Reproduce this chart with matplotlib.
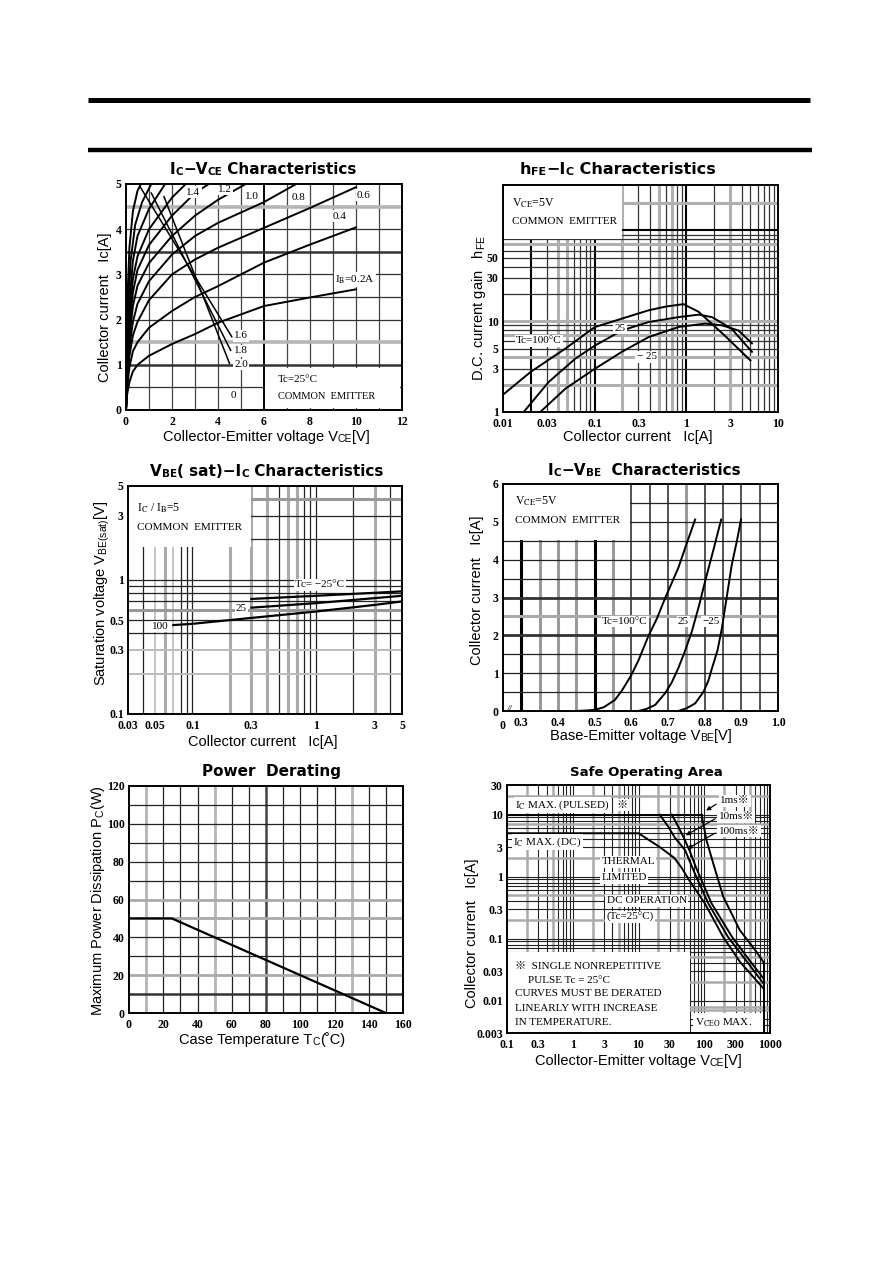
import matplotlib
matplotlib.use('Agg')
import matplotlib.pyplot as plt
from matplotlib.patches import Rectangle

plt.rcParams['mathtext.fontset'] = 'custom'
plt.rcParams['mathtext.rm'] = 'Liberation Sans'
plt.rcParams['mathtext.it'] = 'Liberation Sans'

SANS = 'Liberation Sans'
TITLE = 'DejaVu Sans'
SERIF = ['Liberation Serif', 'DejaVu Serif', 'Noto Sans CJK JP']
W, H = 892, 1263

# ---- Ic-Vce characteristics (IB curves) ----
ib_names = ['0.2', '0.4', '0.6', '0.8', '1.0', '1.2', '1.4', '1.6', '1.8', '2.0']
vce_02 = [0, 0.05, 0.15, 0.3, 0.5, 1, 2, 3, 4, 6, 8, 10]
ic_02 = [0, 0.35, 0.62, 0.85, 1.0, 1.2, 1.46, 1.68, 1.93, 2.3, 2.49, 2.67]
vce_04 = [0, 0.05, 0.15, 0.3, 0.5, 1, 2, 3, 4, 6, 8, 10]
ic_04 = [0, 0.5, 0.95, 1.3, 1.5, 1.82, 2.19, 2.5, 2.74, 3.26, 3.66, 4.04]
vce_06 = [0, 0.05, 0.15, 0.3, 0.5, 1, 2, 3, 4, 6, 8, 10]
ic_06 = [0, 0.6, 1.2, 1.65, 1.95, 2.43, 3.0, 3.33, 3.59, 4.03, 4.47, 4.93]
vce_08 = [0, 0.05, 0.15, 0.3, 0.5, 1, 2, 3, 4, 6, 7.4]
ic_08 = [0, 0.7, 1.4, 1.95, 2.35, 2.85, 3.44, 3.85, 4.14, 4.6, 5.0]
vce_10 = [0, 0.05, 0.15, 0.3, 0.5, 1, 2, 3, 4, 5.2]
ic_10 = [0, 0.8, 1.6, 2.3, 2.75, 3.25, 3.85, 4.3, 4.65, 5.0]
vce_12 = [0, 0.05, 0.15, 0.3, 0.5, 1, 2, 3, 3.6]
ic_12 = [0, 0.9, 1.85, 2.6, 3.1, 3.65, 4.3, 4.8, 5.0]
vce_14 = [0, 0.05, 0.15, 0.3, 0.5, 1, 2, 2.6]
ic_14 = [0, 1.0, 2.1, 2.9, 3.4, 4.0, 4.7, 5.0]
vce_16 = [0, 0.05, 0.15, 0.3, 0.5, 1, 1.7]
ic_16 = [0, 1.1, 2.4, 3.3, 3.85, 4.45, 5.0]
vce_18 = [0, 0.05, 0.1, 0.2, 0.4, 0.7, 1.1]
ic_18 = [0, 1.3, 2.3, 3.3, 4.1, 4.6, 5.0]
vce_20 = [0, 0.03, 0.08, 0.15, 0.3, 0.5, 0.65]
ic_20 = [0, 1.4, 2.7, 3.6, 4.4, 4.85, 5.0]

# ---- hFE-Ic ----
hfe_ic_100 = [0.01, 0.02, 0.048, 0.1, 0.2, 0.39, 0.6, 0.93, 1.36, 2.6, 5.0]
hfe_100 = [1.55, 2.76, 5.0, 8.6, 10.7, 13.2, 14.5, 15.4, 12.7, 7.0, 3.7]
hfe_ic_25 = [0.0168, 0.0315, 0.0615, 0.101, 0.198, 0.39, 0.83, 1.36, 1.9, 3.1, 5.2]
hfe_25 = [1.0, 2.14, 3.87, 5.4, 7.9, 9.8, 11.1, 11.8, 11.1, 8.3, 4.6]
hfe_ic_m25 = [0.0255, 0.048, 0.101, 0.198, 0.39, 0.83, 1.6, 2.45, 3.7, 5.2]
hfe_m25 = [1.0, 1.81, 3.0, 4.6, 6.7, 8.65, 9.4, 9.0, 7.9, 5.7]

# ---- VBE(sat)-Ic ----
sat_ic_100 = [0.07, 0.1, 0.3, 1, 3, 5]
sat_100 = [0.46, 0.47, 0.52, 0.58, 0.65, 0.69]
sat_ic_25 = [0.3, 1, 3, 5]
sat_25 = [0.62, 0.67, 0.73, 0.76]
sat_ic_m25 = [0.3, 1, 3, 5]
sat_m25 = [0.72, 0.76, 0.80, 0.82]

# ---- Ic-VBE ----
vbe_100 = [0.446, 0.47, 0.5, 0.525, 0.555, 0.575, 0.60, 0.62, 0.646, 0.67, 0.692, 0.728, 0.75, 0.774]
icb_100 = [0, 0.01, 0.03, 0.1, 0.29, 0.55, 0.95, 1.35, 1.97, 2.45, 2.98, 3.78, 4.4, 5.06]
vbe_25 = [0.619, 0.64, 0.665, 0.692, 0.71, 0.728, 0.745, 0.765, 0.785, 0.801, 0.825, 0.845]
icb_25 = [0, 0.05, 0.16, 0.47, 0.75, 1.13, 1.55, 2.1, 2.8, 3.42, 4.3, 5.06]
vbe_m25 = [0.728, 0.75, 0.774, 0.797, 0.81, 0.82, 0.835, 0.847, 0.86, 0.874, 0.888, 0.899]
icb_m25 = [0, 0.07, 0.2, 0.51, 0.8, 1.13, 1.6, 2.19, 3.0, 3.87, 4.5, 5.06]

# ---- Power derating ----
tc = [0, 25, 150]
pc = [50, 50, 0]

# ---- Safe operating area ----
pulse_v = [0.1, 91]
pulse_i = [10, 10]
soa_dc_v = [0.1, 10, 21, 35, 45, 60, 102, 194, 350, 600, 800]
soa_dc_i = [5, 5, 3.0, 2.0, 1.4, 0.85, 0.37, 0.106, 0.042, 0.022, 0.0156]
soa_100ms_v = [21, 28, 36, 51, 70, 115, 230, 450, 800]
soa_100ms_i = [10, 6.5, 4.2, 2.68, 1.2, 0.37, 0.106, 0.042, 0.0187]
soa_10ms_v = [32, 40, 48, 60, 75, 129, 265, 500, 800]
soa_10ms_i = [10, 6.5, 4.4, 2.6, 1.4, 0.37, 0.106, 0.043, 0.0226]
soa_1ms_v = [91, 100, 108, 137, 194, 347, 623, 800]
soa_1ms_i = [10, 6.0, 3.87, 1.63, 0.477, 0.137, 0.061, 0.0413]
vceo_v = [800, 800]
vceo_i = [0.003, 0.0413]


def box(l, t, r, b):
    return [l / W, 1 - b / H, (r - l) / W, (b - t) / H]


def frame(ax):
    for s in ax.spines.values():
        s.set_linewidth(1.4)
        s.set_zorder(6)
    ax.tick_params(length=0, labelsize=8.5)
    ax.tick_params(axis='x', pad=4.5)
    ax.tick_params(axis='y', pad=3)
    for lab in ax.get_xticklabels() + ax.get_yticklabels():
        lab.set_family(SERIF)
        lab.set_fontweight('bold')


def lines(ax, xs=(), ys=(), color='#222222', lw=0.8):
    for v in xs:
        ax.axvline(v, color=color, lw=lw, zorder=1)
    for v in ys:
        ax.axhline(v, color=color, lw=lw, zorder=1)


def white(ax, x0, y0, x1, y1):
    ax.add_patch(Rectangle((x0, y0), x1 - x0, y1 - y0, fc='white', ec='none', zorder=2))


def note(ax, x, y, s, ha='left', bg=True, size=8):
    kw = dict(fc='white', ec='none', pad=1.0) if bg else None
    ax.text(x, y, s, ha=ha, va='center', fontsize=size, family=SERIF,
            math_fontfamily='stix', bbox=kw, zorder=5)


fig = plt.figure(figsize=(W / 100, H / 100), dpi=100)
ax0 = fig.add_axes([0, 0, 1, 1])
ax0.set_xlim(0, W)
ax0.set_ylim(H, 0)
ax0.axis('off')

ax0.plot([88, 810], [99.5, 99.5], color='black', lw=3.6, solid_capstyle='butt')
ax0.plot([88, 812], [150, 150], color='black', lw=3.2, solid_capstyle='butt')


def rich(x, y, parts, weight='bold', family=TITLE):
    t = ax0.text(x, y, parts[0][0], fontsize=parts[0][1], fontweight=weight,
                 family=family, va='baseline', ha='left')
    for s, fs in parts[1:]:
        t = ax0.annotate(s, xy=(1, 0), xycoords=t, fontsize=fs, fontweight=weight,
                         family=family, va='bottom', ha='left')


# titles
rich(170, 174, [('I', 11), ('C', 7.5), ('−V', 11), ('CE', 7.5), (' Characteristics', 11)])
rich(520, 174, [('h', 11.5), ('FE', 8), ('−I', 11.5), ('C', 8), (' Characteristics', 11.5)])
rich(150, 476, [('V', 11), ('BE', 7.5), ('( sat)−I', 11), ('C', 7.5), (' Characteristics', 11)])
rich(548, 475, [('I', 11), ('C', 7.5), ('−V', 11), ('BE', 7.5), ('  Characteristics', 11)])
ax0.text(202, 776, 'Power  Derating', fontsize=11, fontweight='bold', family=TITLE, va='baseline')
ax0.text(570, 776, 'Safe Operating Area', fontsize=9.5, fontweight='bold', family=TITLE,
         va='baseline')

# x labels
rich(163, 441, [('Collector-Emitter voltage V', 10.5), ('CE', 7.5), ('[V]', 10.5)],
     weight='normal', family=SANS)
ax0.text(638, 441, 'Collector current   Ic[A]', fontsize=10.5, family=SANS, ha='center', va='baseline')
ax0.text(263, 746, 'Collector current   Ic[A]', fontsize=10.5, family=SANS, ha='center', va='baseline')
rich(550, 740, [('Base-Emitter voltage V', 10.5), ('BE', 7.5), ('[V]', 10.5)],
     weight='normal', family=SANS)
rich(179, 1044, [('Case Temperature T', 10.5), ('C', 7.5), ('(˚C)', 10.5)],
     weight='normal', family=SANS)
rich(535, 1065, [('Collector-Emitter voltage V', 10.5), ('CE', 7.5), ('[V]', 10.5)],
     weight='normal', family=SANS)

# y labels
ylab = dict(fontsize=10.5, family=SANS, rotation=90, ha='center', va='center')
ax0.text(105, 307, 'Collector current   Ic[A]', **ylab)
ax0.text(479, 308, r'D.C. current gain   h$_{\rm FE}$', **ylab)
ax0.text(102, 593, r'Saturation voltage V$_{\rm BE(sat)}$[V]', **ylab)
ax0.text(477, 590, 'Collector current   Ic[A]', **ylab)
ax0.text(98, 901, r'Maximum Power Dissipation P$_{\rm C}$(W)', **ylab)
ax0.text(472, 933, 'Collector current   Ic[A]', **ylab)

# ===== chart 1: Ic-Vce =====
ax1 = fig.add_axes(box(126, 184, 402, 410))
ax1.set_xlim(0, 12)
ax1.set_ylim(0, 5)
ax1.set_xticks(range(0, 13, 2))
ax1.set_yticks(range(0, 6))
lines(ax1, xs=[1, 2, 3, 4, 5, 7, 8, 9, 10, 11], color='#444444', lw=0.9)
lines(ax1, xs=[6], color='black', lw=1.4)
lines(ax1, ys=[0.5, 2, 2.5, 3, 4], color='#333333', lw=0.9)
lines(ax1, ys=[1.5, 4.5], color='#b5b5b5', lw=2.6)
lines(ax1, ys=[1.0, 3.5], color='#333333', lw=1.8)
white(ax1, 6.05, 0.05, 11.9, 0.93)
curves1 = [(vce_02, ic_02), (vce_04, ic_04), (vce_06, ic_06), (vce_08, ic_08), (vce_10, ic_10),
           (vce_12, ic_12), (vce_14, ic_14), (vce_16, ic_16), (vce_18, ic_18), (vce_20, ic_20)]
for v, i in curves1:
    ax1.plot(v, i, color='black', lw=1.4, zorder=3)
# leader lines for the steep curves
ax1.plot([4.6, 0.6], [1.62, 4.95], color='black', lw=1.1, zorder=3)
ax1.plot([4.55, 1.1], [1.32, 4.8], color='black', lw=1.1, zorder=3)
ax1.plot([4.5, 1.65], [1.03, 4.72], color='black', lw=1.1, zorder=3)
note(ax1, 2.93, 4.82, '1.4', ha='center')
note(ax1, 4.30, 4.88, '1.2', ha='center')
note(ax1, 5.46, 4.73, '1.0', ha='center')
note(ax1, 7.49, 4.71, '0.8', ha='center')
note(ax1, 10.35, 4.75, '0.6', ha='center')
note(ax1, 9.3, 4.29, '0.4', ha='center')
note(ax1, 9.96, 2.89, r'I$_{\rm B}$=0.2A', ha='center')
note(ax1, 4.7, 1.64, '1.6')
note(ax1, 4.7, 1.31, '1.8')
note(ax1, 4.7, 1.01, '2.0')
note(ax1, 4.55, 0.32, '0')
note(ax1, 6.62, 0.68, 'Tc=25°C', bg=False)
note(ax1, 6.62, 0.29, 'COMMON  EMITTER', bg=False, size=7.5)
frame(ax1)

# ===== chart 2: hFE-Ic =====
ax2 = fig.add_axes(box(503, 185, 778, 412))
ax2.set_xscale('log')
ax2.set_yscale('log')
ax2.set_xlim(0.01, 10)
ax2.set_ylim(1, 316)
ax2.set_xticks([0.01, 0.03, 0.1, 0.3, 1, 3, 10])
ax2.set_xticklabels(['0.01', '0.03', '0.1', '0.3', '1', '3', '10'])
ax2.set_yticks([1, 3, 5, 10, 30, 50])
ax2.set_yticklabels(['1', '3', '5', '10', '30', '50'])
ax2.minorticks_off()
lines(ax2, xs=[0.03, 0.06, 0.07, 0.08, 0.09, 0.3, 0.4, 0.6, 0.8, 0.9, 2, 4, 5, 6, 7, 8, 9],
      color='#333333', lw=0.9)
lines(ax2, xs=[0.04, 0.05, 0.2, 0.5, 0.7, 3], color='#b0b0b0', lw=2.2)
lines(ax2, xs=[0.02, 0.1, 1], color='black', lw=1.5)
lines(ax2, ys=[3, 5, 6, 8, 9, 20, 30, 40, 50, 60, 80, 90], color='#333333', lw=0.9)
lines(ax2, ys=[2, 4, 7, 10, 70, 200], color='#b0b0b0', lw=2.2)
lines(ax2, ys=[100], color='black', lw=1.5)
white(ax2, 0.01, 81, 0.198, 316)
ax2.plot(hfe_ic_100, hfe_100, color='black', lw=1.4, zorder=3)
ax2.plot(hfe_ic_25, hfe_25, color='black', lw=1.4, zorder=3)
ax2.plot(hfe_ic_m25, hfe_m25, color='black', lw=1.4, zorder=3)
note(ax2, 0.0125, 199, r'V$_{\rm CE}$=5V', bg=False, size=8.5)
note(ax2, 0.0125, 125, 'COMMON  EMITTER', bg=False)
note(ax2, 0.0245, 6.06, 'Tc=100°C', ha='center')
note(ax2, 0.19, 8.3, '25', ha='center')
note(ax2, 0.37, 4.05, '− 25', ha='center')
frame(ax2)

# ===== chart 3: VBE(sat)-Ic =====
ax3 = fig.add_axes(box(128, 486, 402, 714))
ax3.set_xscale('log')
ax3.set_yscale('log')
ax3.set_xlim(0.03, 5)
ax3.set_ylim(0.1, 5)
ax3.set_xticks([0.03, 0.05, 0.1, 0.3, 1, 3, 5])
ax3.set_xticklabels(['0.03', '0.05', '0.1', '0.3', '1', '3', '5'])
ax3.set_yticks([0.1, 0.3, 0.5, 1, 3, 5])
ax3.set_yticklabels(['0.1', '0.3', '0.5', '1', '3', '5'])
ax3.minorticks_off()
lines(ax3, xs=[0.04, 0.08, 0.09, 0.1, 0.5, 0.8, 0.9, 1, 2, 4], color='#222222', lw=0.9)
lines(ax3, xs=[0.05, 0.07], color='#bbbbbb', lw=1.2)
lines(ax3, xs=[0.06, 0.2, 0.3, 0.4, 0.6, 0.7, 3], color='#aaaaaa', lw=2.2)
lines(ax3, ys=[0.4, 0.5, 0.7, 0.8, 0.9, 1, 2, 3], color='#222222', lw=0.9)
lines(ax3, ys=[0.2, 0.3], color='#bbbbbb', lw=1.4)
lines(ax3, ys=[0.6, 4], color='#999999', lw=2.2)
white(ax3, 0.03, 1.77, 0.3, 5)
ax3.plot(sat_ic_m25, sat_m25, color='black', lw=1.6, zorder=3)
ax3.plot(sat_ic_25, sat_25, color='black', lw=1.6, zorder=3)
ax3.plot(sat_ic_100, sat_100, color='black', lw=1.6, zorder=3)
note(ax3, 0.0355, 3.4, r'I$_{\rm C}$ / I$_{\rm B}$=5', bg=False, size=8.5)
note(ax3, 0.0355, 2.44, 'COMMON  EMITTER', bg=False)
note(ax3, 1.08, 0.915, 'Tc= −25°C', ha='center')
note(ax3, 0.25, 0.61, '25', ha='center')
note(ax3, 0.055, 0.45, '100', ha='center')
frame(ax3)

# ===== chart 4: Ic-VBE =====
ax4 = fig.add_axes(box(503, 484, 778, 711))
ax4.set_xlim(0.25, 1.0)
ax4.set_ylim(0, 6)
ax4.set_xticks([0.3, 0.4, 0.5, 0.6, 0.7, 0.8, 0.9, 1.0])
ax4.set_xticklabels(['0.3', '0.4', '0.5', '0.6', '0.7', '0.8', '0.9', '1.0'])
ax4.set_yticks(range(0, 7))
lines(ax4, xs=[0.6, 0.65, 0.7, 0.8, 0.85, 0.9, 0.95], color='#444444', lw=1.3)
lines(ax4, xs=[0.35, 0.4, 0.45, 0.55, 0.75], color='#9a9a9a', lw=2.2)
lines(ax4, xs=[0.3, 0.5], color='black', lw=2.2)
lines(ax4, ys=[0.5, 1, 1.5, 3.5, 4, 4.5, 5, 5.5], color='#222222', lw=0.9)
lines(ax4, ys=[2, 3], color='#333333', lw=2.0)
lines(ax4, ys=[2.5], color='#aaaaaa', lw=2.2)
white(ax4, 0.25, 4.53, 0.596, 6)
ax4.plot(vbe_100, icb_100, color='black', lw=1.4, zorder=3)
ax4.plot(vbe_25, icb_25, color='black', lw=1.4, zorder=3)
ax4.plot(vbe_m25, icb_m25, color='black', lw=1.4, zorder=3)
note(ax4, 0.282, 5.54, r'V$_{\rm CE}$=5V', bg=False, size=8.5)
note(ax4, 0.282, 5.04, 'COMMON  EMITTER', bg=False)
note(ax4, 0.583, 2.37, 'Tc=100°C', ha='center')
note(ax4, 0.742, 2.37, '25', ha='center')
note(ax4, 0.818, 2.37, '−25', ha='center')
ax4.text(0.25, -0.25, '0', fontsize=8.5, fontweight='bold', family=SERIF, ha='center', va='top',
         clip_on=False)
ax4.text(0.268, 0.05, '//', fontsize=7, family=SERIF, style='italic', ha='center', va='center',
         zorder=6, clip_on=False)
frame(ax4)

# ===== chart 5: power derating =====
ax5 = fig.add_axes(box(129, 786, 403, 1013))
ax5.set_xlim(0, 160)
ax5.set_ylim(0, 120)
ax5.set_xticks(range(0, 161, 20))
ax5.set_yticks(range(0, 121, 20))
lines(ax5, xs=[20, 30, 40, 60, 70, 90, 100, 110, 120, 140, 150], color='#222222', lw=0.9)
lines(ax5, xs=[10, 50, 130], color='#b5b5b5', lw=2.0)
lines(ax5, xs=[80], color='#444444', lw=1.8)
lines(ax5, ys=[30, 40, 70, 80, 90, 100, 110], color='#222222', lw=0.9)
lines(ax5, ys=[20, 50, 60], color='#aaaaaa', lw=2.0)
lines(ax5, ys=[10], color='#333333', lw=1.8)
ax5.plot(tc, pc, color='black', lw=1.6, zorder=3)
frame(ax5)

# ===== chart 6: safe operating area =====
ax6 = fig.add_axes(box(507, 785, 770, 1033))
ax6.set_xscale('log')
ax6.set_yscale('log')
ax6.set_xlim(0.1, 1000)
ax6.set_ylim(0.003, 30)
ax6.set_xticks([0.1, 0.3, 1, 3, 10, 30, 100, 300, 1000])
ax6.set_xticklabels(['0.1', '0.3', '1', '3', '10', '30', '100', '300', '1000'])
ax6.set_yticks([0.003, 0.01, 0.03, 0.1, 0.3, 1, 3, 10, 30])
ax6.set_yticklabels(['0.003', '0.01', '0.03', '0.1', '0.3', '1', '3', '10', '30'])
ax6.minorticks_off()
lines(ax6, xs=[0.3, 0.4, 0.6, 0.7, 0.8, 0.9, 1, 3, 4, 6, 7, 8, 9, 10, 30, 50, 60, 70, 80, 90, 100,
               300, 400, 600, 700, 800, 900], color='#222222', lw=0.8)
lines(ax6, xs=[0.2, 0.5, 2, 5, 20, 40, 200, 500], color='#aaaaaa', lw=1.8)
lines(ax6, ys=[0.004, 0.005, 0.01, 0.03, 0.04, 0.06, 0.07, 0.08, 0.09, 0.1, 0.3, 0.4, 0.6, 0.7,
               0.8, 0.9, 1, 3, 4, 5, 6, 8, 9, 10], color='#222222', lw=0.8)
lines(ax6, ys=[0.007, 0.008, 0.02, 0.05, 0.2, 0.5, 2, 7, 20], color='#aaaaaa', lw=1.8)
white(ax6, 0.1, 0.003, 60, 0.061)
white(ax6, 68, 0.003, 785, 0.0062)
ax6.plot(pulse_v, pulse_i, color='black', lw=1.4, zorder=3)
ax6.plot(soa_dc_v, soa_dc_i, color='black', lw=1.4, zorder=3)
ax6.plot(soa_100ms_v, soa_100ms_i, color='black', lw=1.4, zorder=3)
ax6.plot(soa_10ms_v, soa_10ms_i, color='black', lw=1.4, zorder=3)
ax6.plot(soa_1ms_v, soa_1ms_i, color='black', lw=1.4, zorder=3)
ax6.plot(vceo_v, vceo_i, color='black', lw=1.4, zorder=3)
note(ax6, 0.132, 14.2, r'I$_{\rm C}$ MAX. (PULSED)')
note(ax6, 4.6, 14.2, '※')
note(ax6, 0.125, 3.56, r'I$_{\rm C}$ MAX. (DC)')
note(ax6, 2.75, 1.73, 'THERMAL')
note(ax6, 2.75, 0.956, 'LIMITED')
note(ax6, 3.27, 0.405, 'DC OPERATION')
note(ax6, 3.27, 0.224, '(Tc=25°C)')
note(ax6, 0.132, 0.036, '※  SINGLE NONREPETITIVE', bg=False)
note(ax6, 0.21, 0.021, 'PULSE Tc = 25°C', bg=False)
note(ax6, 0.132, 0.0128, 'CURVES MUST BE DERATED', bg=False)
note(ax6, 0.132, 0.0075, 'LINEARLY WITH INCREASE', bg=False)
note(ax6, 0.132, 0.0044, 'IN TEMPERATURE.', bg=False)
note(ax6, 72, 0.0044, r'V$_{\rm CEO}$ MAX.', bg=False)
note(ax6, 175, 16.7, '1ms※')
note(ax6, 165, 9.2, '10ms※')
note(ax6, 165, 5.4, '100ms※')
ax6.annotate('', xy=(98, 11), xytext=(165, 15.5),
             arrowprops=dict(arrowstyle='-|>', color='black', lw=0.9, mutation_scale=6), zorder=5)
ax6.annotate('', xy=(48, 4.4), xytext=(160, 9.0),
             arrowprops=dict(arrowstyle='-|>', color='black', lw=0.9, mutation_scale=6), zorder=5)
ax6.annotate('', xy=(51, 2.68), xytext=(160, 5.3),
             arrowprops=dict(arrowstyle='-|>', color='black', lw=0.9, mutation_scale=6), zorder=5)
frame(ax6)

fig.savefig('out.png', dpi=100)
